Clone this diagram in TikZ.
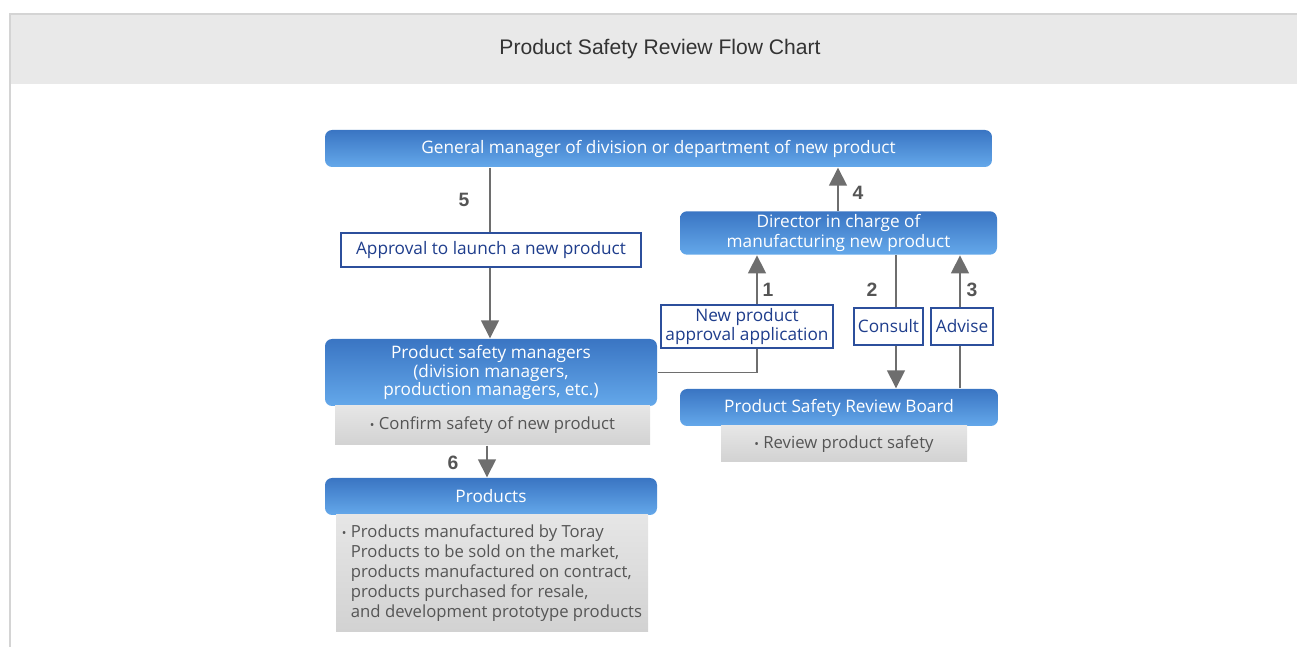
\documentclass[tikz,border=0pt]{standalone}
\usepackage{fontspec}
\setmainfont{Open Sans}
\newfontfamily\arialfont{Liberation Sans}
\usetikzlibrary{arrows.meta, positioning, calc}
\definecolor{cbluetop}{HTML}{3A75C3}
\definecolor{cbluebot}{HTML}{64A8EA}
\definecolor{cnavy}{HTML}{1E3D8C}
\definecolor{cframe}{HTML}{2C4F9C}
\definecolor{cgrey}{HTML}{555555}
\definecolor{cline}{HTML}{6E6E6E}
\definecolor{cnote}{HTML}{E6E6E6}
\definecolor{cnotebot}{HTML}{D2D2D2}
\definecolor{cheader}{HTML}{E9E9E9}
\definecolor{cborder}{HTML}{D4D4D4}
\tikzset{
  every picture/.style={font=\fontsize{9.8}{9.4}\selectfont, line width=0.8pt},
  bluebox/.style={rounded corners=4pt, top color=cbluetop, bottom color=cbluebot, text=white, align=center, inner sep=2pt, minimum height=0.74cm},
  framebox/.style={draw=cframe, fill=white, text=cnavy, align=center, inner sep=2pt, line width=0.9pt, minimum height=0.74cm},
  notebox/.style={top color=cnote, bottom color=cnotebot, text=cgrey, align=left, inner sep=2pt, font=\fontsize{9.5}{9.4}\selectfont},
  arrow/.style={-{Triangle[width=0.36cm, length=0.36cm]}, draw=cline, line width=0.9pt},
  link/.style={draw=cline, line width=0.9pt},
  num/.style={font=\arialfont\bfseries\fontsize{11}{11}\selectfont, text=cgrey},
}
\newcommand{\bul}{{\scriptsize\textbullet}\ }
\newcommand{\bulsp}{\phantom{\bul}}

\begin{document}
\begin{tikzpicture}
  \useasboundingbox (0,0) rectangle (25.94,-12.94);
  % page frame and header
  \fill[cheader] (0.2,-0.28) rectangle (25.94,-1.68);
  \draw[cborder, line width=0.6pt] (0.2,-12.94) -- (0.2,-0.28) -- (25.94,-0.28);
  \node[font=\arialfont\fontsize{12}{12}\selectfont, text=black!80] (title) at (13.2,-0.98) {Product Safety Review Flow Chart};
  % boxes
  \node[bluebox, minimum width=13.34cm] (gm) at (13.17,-2.97) {General manager of division or department of new product};
  \node[framebox, minimum width=6.0cm, minimum height=0.68cm] (appr) at (9.82,-5.0) {Approval to launch a new product};
  \node[bluebox, minimum width=6.64cm, minimum height=1.34cm] (psm) at (9.82,-7.45) {Product safety managers\\(division managers,\\production managers, etc.)};
  \node[notebox, minimum width=6.3cm, minimum height=0.78cm] (psmnote) at (9.85,-8.51) {\bul Confirm safety of new product};
  \node[bluebox, minimum width=6.64cm] (prod) at (9.82,-9.93) {Products};
  \node[notebox, minimum width=6.24cm, minimum height=2.32cm, font=\fontsize{9.5}{11.3}\selectfont] (prodnote) at (9.84,-11.46)
    {\bul Products manufactured by Toray\\\bulsp Products to be sold on the market,\\\bulsp products manufactured on contract,\\\bulsp products purchased for resale,\\\bulsp and development prototype products};
  \node[bluebox, minimum width=6.34cm, minimum height=0.76cm] (dir) at (16.77,-4.66) {Director in charge of\\manufacturing new product};
  \node[framebox, minimum width=3.44cm] (app) at (14.94,-6.53) {New product\\approval application};
  \node[framebox, minimum width=1.38cm] (cons) at (17.77,-6.53) {Consult};
  \node[framebox, minimum width=1.24cm] (adv) at (19.24,-6.53) {Advise};
  \node[bluebox, minimum width=6.36cm] (board) at (16.78,-8.15) {Product Safety Review Board};
  \node[notebox, minimum width=4.92cm, minimum height=0.72cm] (boardnote) at (16.88,-8.88) {\bul Review product safety};
  % connector columns
  \coordinate (l1) at (15.14,0);
  \coordinate (l2) at (17.92,0);
  \coordinate (l3) at (19.2,0);
  \coordinate (l4) at (16.76,0);
  \coordinate (l5) at (9.8,0);
  \coordinate (l6) at (9.74,0);
  \draw[link] (psm.east) -| (l1 |- app.south);
  \draw[arrow] (l1 |- app.north) -- (l1 |- dir.south);
  \draw[link] (l2 |- dir.south) -- (l2 |- cons.north);
  \draw[arrow] (l2 |- cons.south) -- (l2 |- board.north);
  \draw[link] (l3 |- board.north) -- (l3 |- adv.south);
  \draw[arrow] (l3 |- adv.north) -- (l3 |- dir.south);
  \draw[arrow] (l4 |- dir.north) -- (l4 |- gm.south);
  \draw[link] (l5 |- gm.south) -- (l5 |- appr.north);
  \draw[arrow] (l5 |- appr.south) -- (l5 |- psm.north);
  \draw[arrow] (l6 |- psmnote.south) -- (l6 |- prod.north);
  % step numbers
  \node[num] (n1) at (15.36,-5.8) {1};
  \node[num] (n2) at (17.44,-5.8) {2};
  \node[num] (n3) at (19.44,-5.8) {3};
  \node[num] (n4) at (17.16,-3.86) {4};
  \node[num] (n5) at (9.28,-4.0) {5};
  \node[num] (n6) at (9.06,-9.26) {6};
\end{tikzpicture}
\end{document}
